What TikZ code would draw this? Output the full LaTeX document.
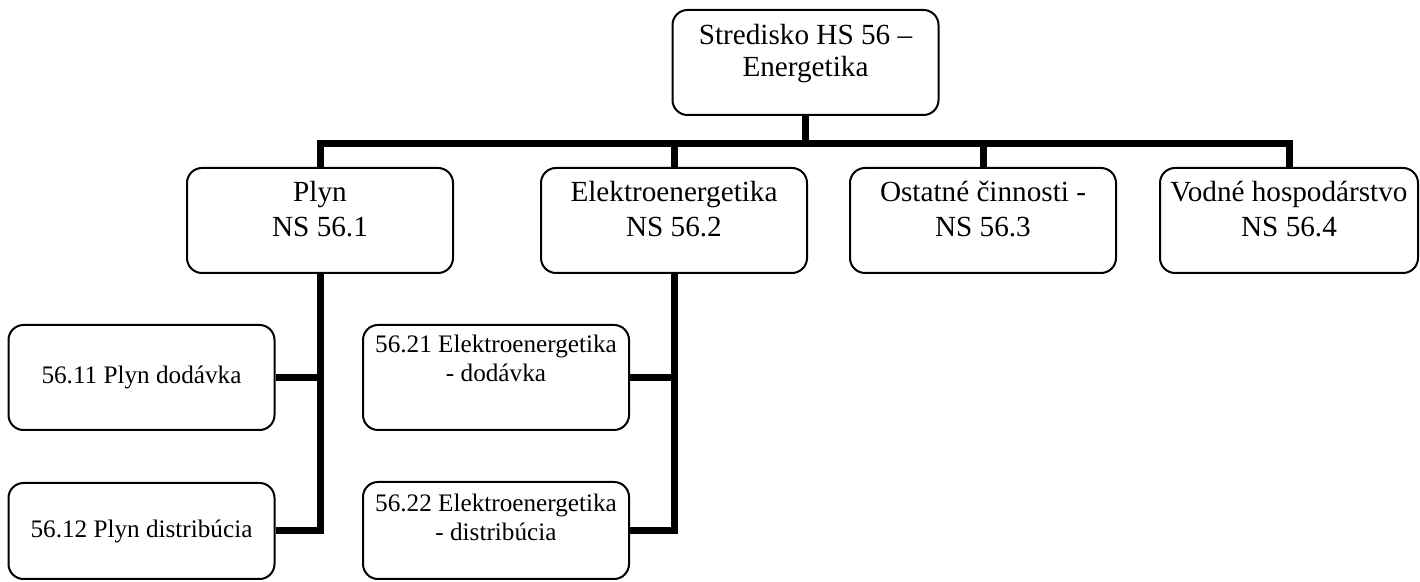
\documentclass[tikz,border=0pt]{standalone}
\usepackage{fontspec}
\setmainfont{Liberation Serif}
\usetikzlibrary{positioning}
\tikzset{%
	unit/.style     = {draw, rectangle, rounded corners=7.5pt, line width=1pt, minimum width=133pt, minimum height=52.5pt, inner sep=0pt},
	subunit/.style  = {unit, font=\fontsize{12.6}{14.5}\selectfont}, % lowest level
	unittext/.style = {inner sep=0pt, align=center, font=\fontsize{14.6}{17.5}\selectfont},
	subtext/.style  = {inner sep=0pt, align=center, font=\fontsize{12.6}{14.5}\selectfont},
	branch/.style   = {line width=3.5pt, line join=miter}, % connector
}
\begin{document}
\begin{tikzpicture}[x=0.5pt,y=-0.5pt]
	\useasboundingbox (0,0) rectangle (1420,582);
	% boxes
	\node [unit] (hs) at (805.5,62.5) {};
	\node [unit] (plyn) at (320,220.5) {};
	\node [unit] (elektro) at (674,220.5) {};
	\node [unit] (ostatne) at (983,220.5) {};
	\node [unit,minimum width=129pt] (vodne) at (1289,220.5) {};
	\node [subunit] (d11) at (141.5,377.5) {56.11 Plyn dodávka};
	\node [subunit,minimum height=48pt] (d12) at (141.5,531) {56.12 Plyn distribúcia};
	\node [unit] (e21) at (496,377.5) {};
	\node [unit,minimum height=48.5pt] (e22) at (496,530.5) {};
	
	% texts
	\node [unittext,font=\fontsize{14.6}{16}\selectfont,below=7.5pt of hs.north] (hs-t) {Stredisko HS 56 –\\Energetika};
	\node [unittext,below=7pt of plyn.north] (plyn-t) {Plyn\\NS 56.1};
	\node [unittext,below=7pt of elektro.north] (elektro-t) {Elektroenergetika\\NS 56.2};
	\node [unittext,below=7pt of ostatne.north] (ostatne-t) {Ostatné činnosti -\\NS 56.3};
	\node [unittext,below=7pt of vodne.north] (vodne-t) {Vodné hospodárstvo\\NS 56.4};
	\node [subtext,below=5.5pt of e21.north] (e21-t) {56.21 Elektroenergetika\\- dodávka};
	\node [subtext,below=6.5pt of e22.north] (e22-t) {56.22 Elektroenergetika\\- distribúcia};
	
	% connectors
	\coordinate (bus) at (805.5,144);
	\foreach \n in {plyn,elektro,ostatne,vodne}
		\draw [branch] (hs.south) -- (bus) -| (\n.north);
	\draw [branch] (plyn.south) |- (d11.east);
	\draw [branch] (plyn.south) |- (d12.east);
	\draw [branch] (elektro.south) |- (e21.east);
	\draw [branch] (elektro.south) |- (e22.east);
\end{tikzpicture}
\end{document}
